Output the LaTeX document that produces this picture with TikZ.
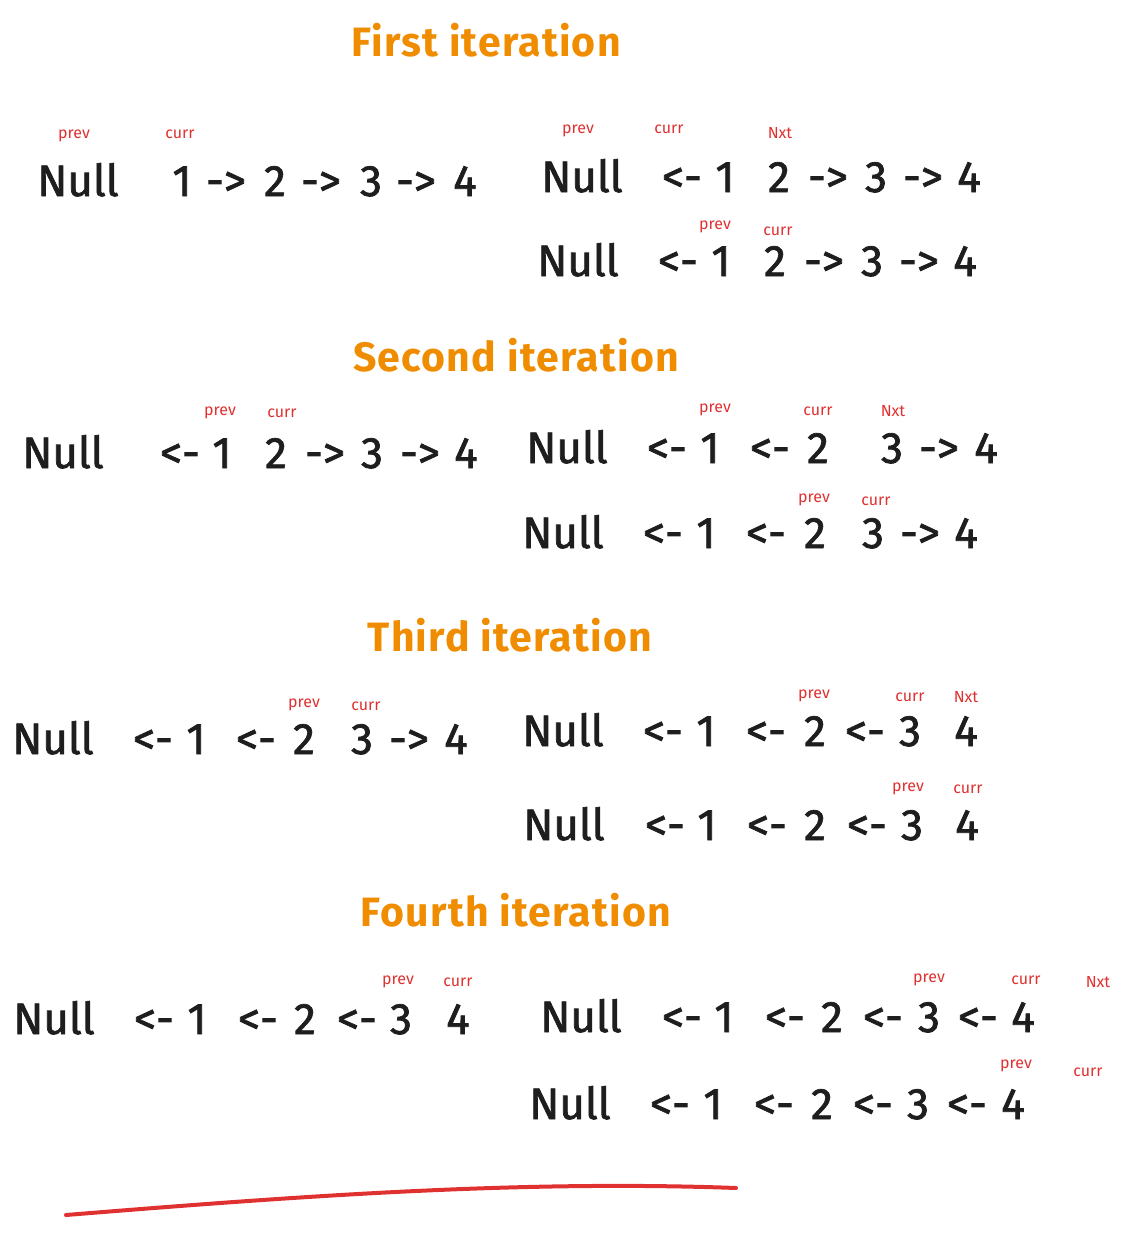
\documentclass[tikz,border=0pt]{standalone}
\usepackage{fontspec}
\setmainfont{Fira Sans}
\newfontfamily\tokfont[FakeBold=1.6]{Fira Sans}
\newfontfamily\ttlfont[LetterSpace=3]{Fira Sans}
\definecolor{ink}{HTML}{1E1E1E}
\definecolor{exorange}{HTML}{F08C00}
\definecolor{exred}{HTML}{E03131}
\tikzset{
  tok/.style={text=ink, anchor=base, inner sep=0pt, font=\tokfont\fontsize{44}{46}\selectfont},
  lbl/.style={text=exred, anchor=center, inner sep=0pt, font=\fontsize{16}{18}\selectfont},
  ttl/.style={text=exorange, anchor=base, inner sep=0pt, font=\ttlfont\bfseries\fontsize{41}{44}\selectfont},
  redline/.style={draw=exred, line width=4pt, line cap=round}
}
\newcommand\TokRow[3]{%
  \foreach \xx/\tt [count=\ii] in {#3} {\node[tok] (#1-\ii) at (\xx,#2) {\tt};}%
}
\newcommand\LblRow[2]{%
  \foreach \xx/\yy/\tt [count=\ii] in {#2} {\node[lbl] (#1-l\ii) at (\xx,\yy) {\tt};}%
}
\begin{document}
\begin{tikzpicture}[x=1pt,y=-1pt]
\useasboundingbox (0,0) rectangle (1133,1243);
% titles
\node[ttl] (t1) at (486,56) {First iteration};
\node[ttl] (t2) at (516,371) {Second iteration};
\node[ttl] (t3) at (510,651) {Third iteration};
\node[ttl] (t4) at (516,926) {Fourth iteration};
% first iteration
\TokRow{aL}{196}{78/Null,182/1,226/->,275/2,321/->,371/3,416/->,465/4}
\LblRow{aL}{74/136/prev,180/134/curr}
\TokRow{aT}{192}{582/Null,682/<-,725/1,779/2,828/->,876/3,923/->,969/4}
\LblRow{aT}{578/131/prev,669/129/curr,780/133/Nxt}
\TokRow{aB}{276}{578/Null,678/<-,721/1,775/2,824/->,872/3,919/->,965/4}
\LblRow{aB}{715/227/prev,778/231/curr}
% second iteration
\TokRow{bL}{468}{63/Null,180/<-,222/1,276/2,325/->,372/3,420/->,466/4}
\LblRow{bL}{220/413/prev,282/413/curr}
\TokRow{bT}{463}{567/Null,667/<-,710/1,770/<-,818/2,892/3,939/->,986/4}
\LblRow{bT}{715/410/prev,818/411/curr,893/411/Nxt}
\TokRow{bB}{548}{563/Null,663/<-,706/1,766/<-,815/2,873/3,920/->,966/4}
\LblRow{bB}{814/500/prev,876/501/curr}
% third iteration
\TokRow{cL}{754}{53/Null,153/<-,196/1,256/<-,304/2,362/3,409/->,456/4}
\LblRow{cL}{304/705/prev,366/706/curr}
\TokRow{cT}{746}{563/Null,663/<-,706/1,766/<-,815/2,865/<-,910/3,966/4}
\LblRow{cT}{814/696/prev,910/697/curr,966/697/Nxt}
\TokRow{cB}{840}{564/Null,665/<-,707/1,767/<-,815/2,867/<-,912/3,967/4}
\LblRow{cB}{908/789/prev,968/789/curr}
% fourth iteration
\TokRow{dL}{1034}{54/Null,154/<-,197/1,258/<-,305/2,357/<-,401/3,458/4}
\LblRow{dL}{398/982/prev,458/982/curr}
\TokRow{dT}{1032}{581/Null,682/<-,724/1,785/<-,832/2,883/<-,929/3,978/<-,1023/4}
\LblRow{dT}{929/980/prev,1026/980/curr,1098/982/Nxt}
\TokRow{dB}{1119}{570/Null,670/<-,713/1,774/<-,822/2,873/<-,918/3,967/<-,1013/4}
\LblRow{dB}{1016/1066/prev,1088/1072/curr}
% red underline
\coordinate (ls) at (66,1215);
\coordinate (le) at (736,1188);
\draw[redline] (ls) .. controls (300,1196) and (520,1180) .. (le);
\end{tikzpicture}
\end{document}
